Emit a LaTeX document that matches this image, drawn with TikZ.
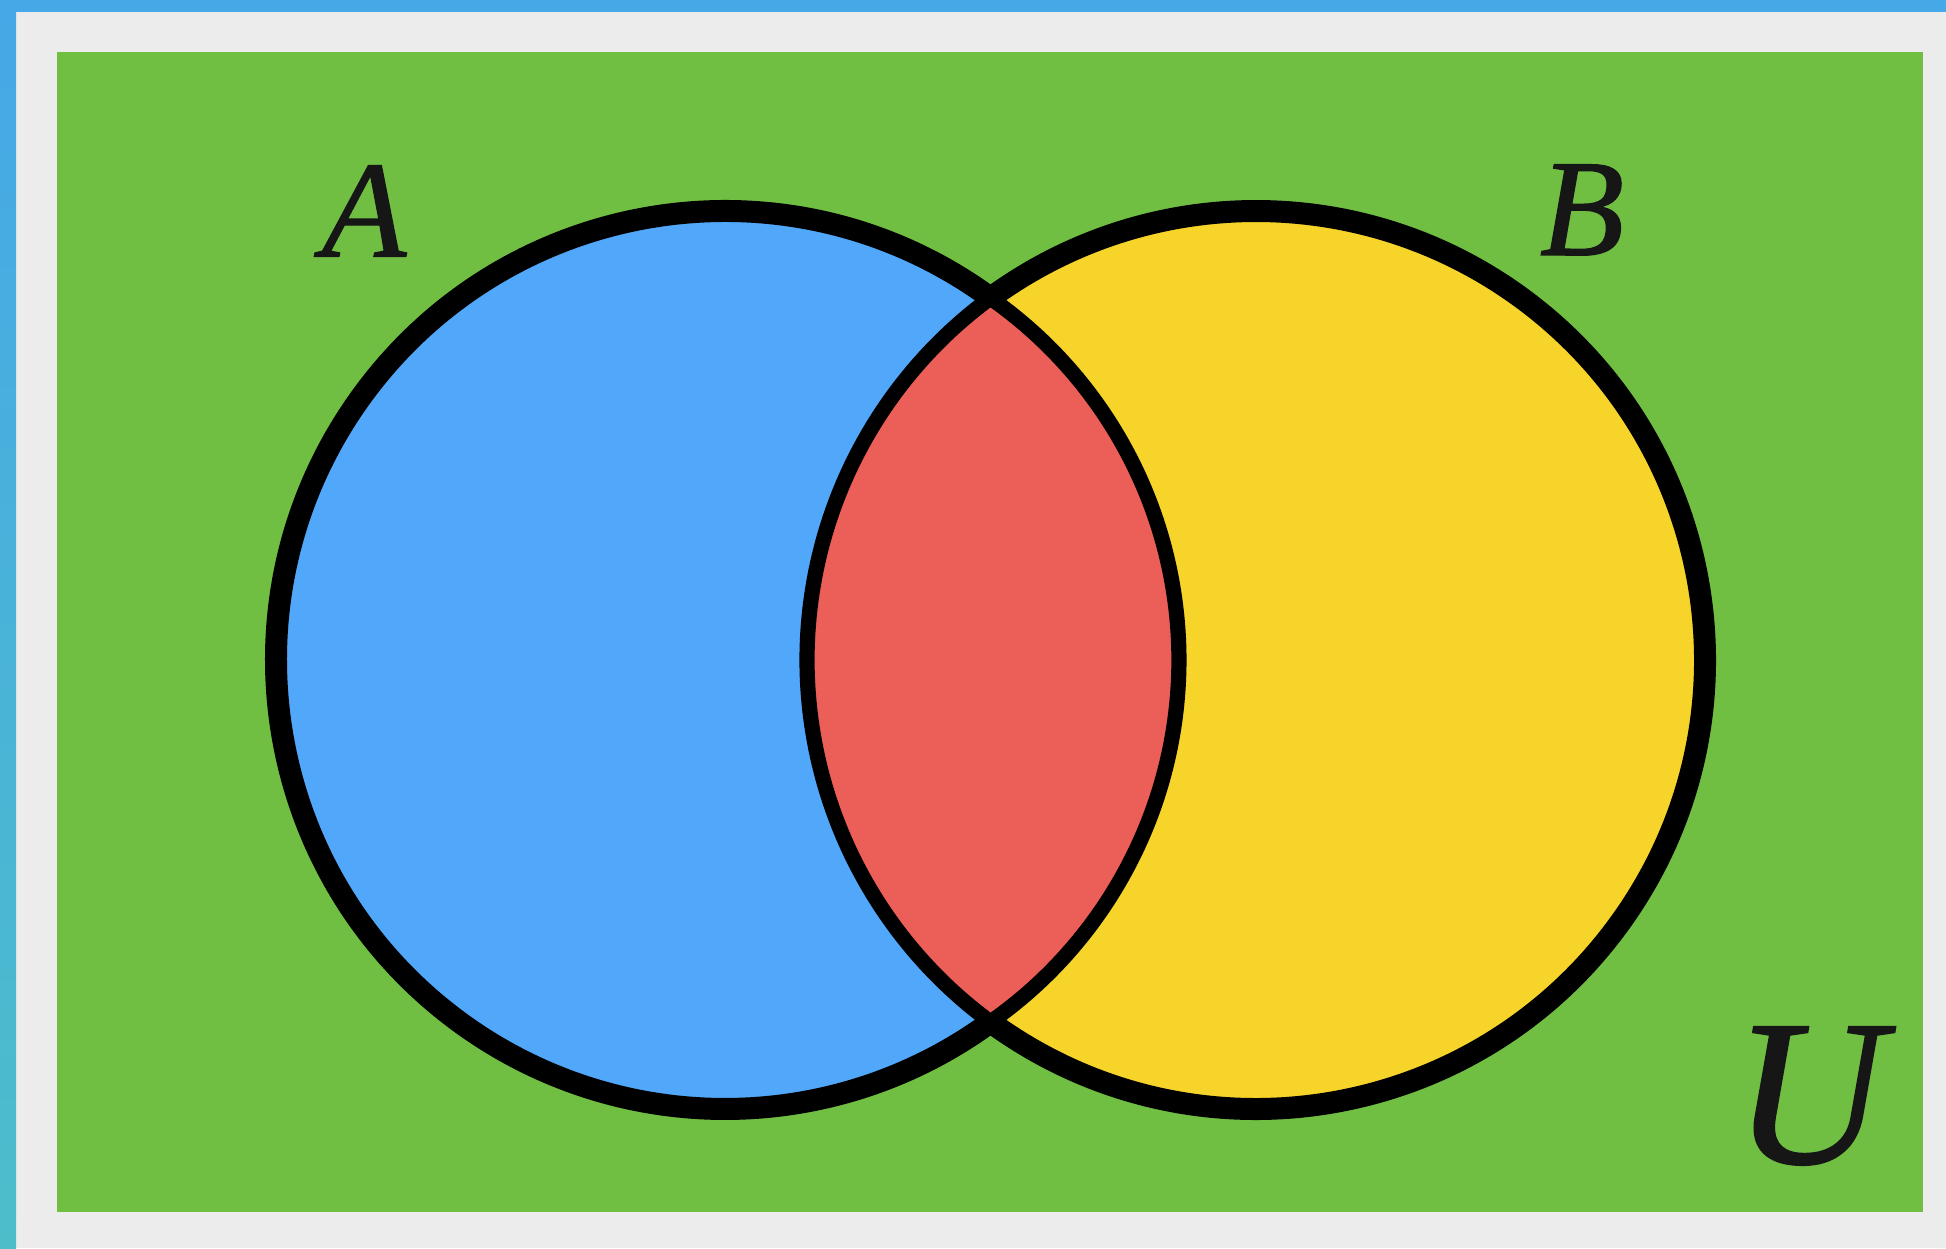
\documentclass[tikz,border=0pt]{standalone}
\usepackage{fontspec}
\setmainfont{Liberation Serif}
\newfontfamily\labfont{Liberation Serif}[ItalicFeatures={FakeBold=0.9}]
\begin{document}
\begin{tikzpicture}[x=0.5pt,y=0.5pt,
  setlabel/.style={inner sep=0pt, text=labelInk, font=\labfont\itshape\fontsize{69}{72}\selectfont},
  outerline/.style={draw=black, line width=11pt},
  lensline/.style={draw=black, line width=7.6pt}]
\definecolor{bgGrey}{HTML}{ECECEC}
\definecolor{barTop}{HTML}{46A8E7}
\definecolor{barBot}{HTML}{4DBDCA}
\definecolor{uGreen}{HTML}{70BF43}
\definecolor{aBlue}{HTML}{51A7F9}
\definecolor{bYellow}{HTML}{F6D42A}
\definecolor{lensRed}{HTML}{EC5E58}
\definecolor{labelInk}{HTML}{161616}
\useasboundingbox (0,0) rectangle (1946,1248);
\fill[bgGrey] (0,0) rectangle (1946,1248);
\shade[top color=barTop, bottom color=barBot] (0,0) rectangle (16,1248);
\fill[barTop] (0,1236) rectangle (1946,1248);
\fill[uGreen] (57,36) rectangle (1923,1196);
\coordinate (A) at (725,588);
\coordinate (B) at (1256,588);
\def\R{449}
% fills
\fill[aBlue] (A) circle[radius=\R];
\fill[bYellow] (B) circle[radius=\R];
% outer arcs
\draw[outerline] ([shift={(53.74:\R)}]A) arc[start angle=53.74, end angle=306.26, radius=\R];
\draw[outerline] ([shift={(-126.26:\R)}]B) arc[start angle=-126.26, end angle=126.26, radius=\R];
% lens (intersection)
\filldraw[fill=lensRed, lensline, line join=miter]
  ([shift={(126.26:\R)}]B) arc[start angle=126.26, end angle=233.74, radius=\R]
  arc[start angle=-55.01, end angle=55.01, radius=441.85] -- cycle;
% labels
\node[setlabel] (labA) at (364,1037) {A};
\node[setlabel] (labB) at (1582,1038) {B};
\node[setlabel, font=\labfont\itshape\fontsize{104}{108}\selectfont] (labU) at (1809,152) {U};
\end{tikzpicture}
\end{document}
